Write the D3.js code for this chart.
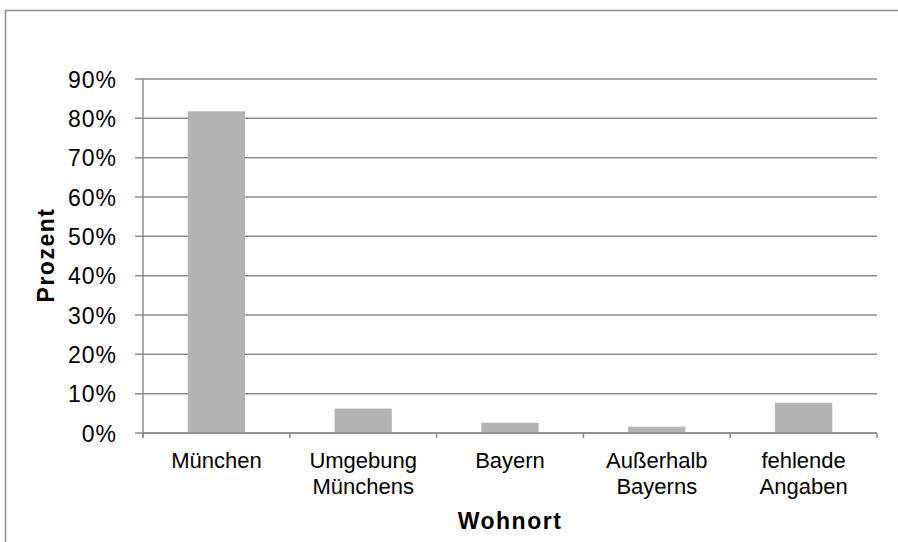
<!DOCTYPE html>
<html>
<head>
<meta charset="utf-8">
<script src="https://cdn.jsdelivr.net/npm/d3@7"></script>
<style>
  body { margin: 0; background: #fff; }
  text { font-family: "Liberation Sans", Arial, sans-serif; fill: #000; }
</style>
</head>
<body>
<div id="chart"></div>
<script>
// Wohnort der Befragten (Anteil in Prozent)
var categories = [["München"], ["Umgebung", "Münchens"], ["Bayern"], ["Außerhalb", "Bayerns"], ["fehlende", "Angaben"]];
var values = [81.8, 6.2, 2.6, 1.6, 7.7];
var yTicks = [0, 10, 20, 30, 40, 50, 60, 70, 80, 90];

var width = 898, height = 542;
var margin = {top: 79, right: 21, bottom: 109, left: 143};
var gridColor = "#8c8c8c";

var svg = d3.select("#chart").append("svg")
    .attr("width", width)
    .attr("height", height);

// outer frame (runs off the right and bottom edge)
svg.append("rect")
    .attr("x", 5.5)
    .attr("y", 10.5)
    .attr("width", 900)
    .attr("height", 560)
    .attr("fill", "none")
    .attr("stroke", gridColor)
    .attr("stroke-width", 1.5);

var x = d3.scaleBand()
    .domain(d3.range(categories.length))
    .range([margin.left, width - margin.right])
    .paddingInner(0.61)
    .paddingOuter(0.305);

var y = d3.scaleLinear()
    .domain([0, 90])
    .range([height - margin.bottom, margin.top]);

// gridlines
svg.append("g")
    .selectAll("line")
    .data(yTicks)
    .enter()
    .append("line")
    .attr("x1", margin.left - 8)
    .attr("x2", width - margin.right)
    .attr("y1", function(d) { return y(d); })
    .attr("y2", function(d) { return y(d); })
    .attr("stroke", gridColor)
    .attr("stroke-width", 1.5);

// y tick labels
svg.append("g")
    .selectAll("text")
    .data(yTicks)
    .enter()
    .append("text")
    .attr("x", 117)
    .attr("y", function(d) { return y(d) + 8.5; })
    .attr("text-anchor", "end")
    .style("font-size", "23px")
    .style("letter-spacing", "1px")
    .text(function(d) { return d + "%"; });

// y axis line
svg.append("line")
    .attr("x1", margin.left)
    .attr("x2", margin.left)
    .attr("y1", y(90))
    .attr("y2", y(0) + 5)
    .attr("stroke", gridColor)
    .attr("stroke-width", 1.5);

// bars
svg.append("g")
    .selectAll("rect")
    .data(values)
    .enter()
    .append("rect")
    .attr("x", function(d, i) { return x(i); })
    .attr("y", function(d) { return y(d); })
    .attr("width", x.bandwidth())
    .attr("height", function(d) { return y(0) - y(d); })
    .attr("fill", "#b3b3b3");

// x axis line and ticks between categories
svg.append("line")
    .attr("x1", margin.left)
    .attr("x2", width - margin.right)
    .attr("y1", y(0))
    .attr("y2", y(0))
    .attr("stroke", gridColor)
    .attr("stroke-width", 1.5);

var step = x.step();
svg.append("g")
    .selectAll("line")
    .data(d3.range(categories.length + 1))
    .enter()
    .append("line")
    .attr("x1", function(d) { return margin.left + d * step; })
    .attr("x2", function(d) { return margin.left + d * step; })
    .attr("y1", y(0))
    .attr("y2", y(0) + 5)
    .attr("stroke", gridColor)
    .attr("stroke-width", 1.5);

// category labels
var labels = svg.append("g")
    .selectAll("text")
    .data(categories)
    .enter()
    .append("text")
    .attr("text-anchor", "middle")
    .style("font-size", "22px")
    .attr("transform", function(d, i) {
        return "translate(" + (x(i) + x.bandwidth() / 2) + "," + (y(0) + 35) + ")";
    });
labels.selectAll("tspan")
    .data(function(d) { return d; })
    .enter()
    .append("tspan")
    .attr("x", 0)
    .attr("y", function(d, i) { return i * 26; })
    .text(function(d) { return d; });

// axis titles
svg.append("text")
    .attr("x", (margin.left + width - margin.right) / 2)
    .attr("y", 529)
    .attr("text-anchor", "middle")
    .style("font-size", "23px")
    .style("font-weight", "bold")
    .style("letter-spacing", "1.5px")
    .text("Wohnort");

svg.append("text")
    .attr("transform", "translate(54,255) rotate(-90)")
    .attr("text-anchor", "middle")
    .style("font-size", "23px")
    .style("font-weight", "bold")
    .style("letter-spacing", "1.5px")
    .text("Prozent");
</script>
</body>
</html>
